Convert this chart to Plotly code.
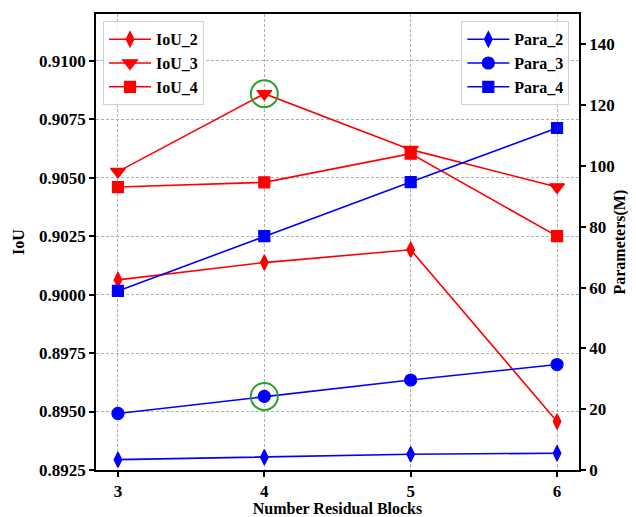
import plotly.graph_objects as go

blocks = [3, 4, 5, 6]
iou_2 = [0.90063, 0.90137, 0.90192, 0.89457]
iou_3 = [0.90526, 0.90859, 0.90620, 0.90460]
iou_4 = [0.90460, 0.90480, 0.90603, 0.90250]
para_2 = [3.4, 4.2, 5.2, 5.5]
para_3 = [18.6, 24.2, 29.6, 34.7]
para_4 = [58.9, 76.9, 94.7, 112.5]
highlight_x = [4]
highlight_iou = [0.90859]
highlight_para = [24.2]

iou_ticks = [0.8925, 0.8950, 0.8975, 0.9000, 0.9025, 0.9050, 0.9075, 0.9100]
para_ticks = [0, 20, 40, 60, 80, 100, 120, 140]

FONT = "Liberation Serif"
RED = "#ff0000"
BLUE = "#0000ff"
GREEN = "#2ca02c"

fig = go.Figure()

iou_series = [("IoU_2", iou_2, "diamond-tall", 11), ("IoU_3", iou_3, "triangle-down", 13),
              ("IoU_4", iou_4, "square", 11)]
for name, ys, sym, sz in iou_series:
    fig.add_trace(go.Scatter(x=blocks, y=ys, name=name, mode="lines+markers",
                             line=dict(color=RED, width=1.6),
                             marker=dict(symbol=sym, size=sz, color=RED,
                                         line=dict(color=RED, width=1.2)),
                             legend="legend", yaxis="y"))

para_series = [("Para_2", para_2, "diamond-tall", 11), ("Para_3", para_3, "circle", 12),
               ("Para_4", para_4, "square", 11)]
for name, ys, sym, sz in para_series:
    fig.add_trace(go.Scatter(x=blocks, y=ys, name=name, mode="lines+markers",
                             line=dict(color=BLUE, width=1.6),
                             marker=dict(symbol=sym, size=sz, color=BLUE,
                                         line=dict(color=BLUE, width=1.2)),
                             legend="legend2", yaxis="y2"))

fig.add_trace(go.Scatter(x=highlight_x, y=highlight_iou, mode="markers", showlegend=False,
                         marker=dict(symbol="circle-open", size=27, color=GREEN,
                                     line=dict(color=GREEN, width=2)),
                         yaxis="y"))
fig.add_trace(go.Scatter(x=highlight_x, y=highlight_para, mode="markers", showlegend=False,
                         marker=dict(symbol="circle-open", size=27, color=GREEN,
                                     line=dict(color=GREEN, width=2)),
                         yaxis="y2"))

tickfont = dict(family=FONT, size=17, color="black", weight="bold")
titlefont = dict(family=FONT, size=16, color="black", weight="bold")
grid = dict(showgrid=True, gridcolor="#b0b0b0", griddash="3px,2px", gridwidth=1)
axline = dict(showline=True, linecolor="black", linewidth=1.5,
              ticks="outside", ticklen=5, tickwidth=1.5, tickcolor="black",
              zeroline=False, automargin=False)

# the page body adds an 8px offset, so the figure is 8px smaller and margins shifted
fig.update_layout(
    width=628, height=509,
    margin=dict(l=88, r=57, t=6, b=47),
    paper_bgcolor="white", plot_bgcolor="white",
    font=dict(family=FONT, size=16, color="black"),
    xaxis=dict(range=[2.85, 6.15], tickvals=blocks, ticktext=[str(b) for b in blocks],
               tickfont=tickfont,
               title=dict(text="Number Residual Blocks", font=titlefont, standoff=8),
               mirror=True, **axline, **grid),
    yaxis=dict(range=[0.8925, 0.9120], tickvals=iou_ticks,
               ticktext=[f"{v:.4f}" for v in iou_ticks],
               tickfont=tickfont, **axline, **grid),
    yaxis2=dict(range=[0, 150], tickvals=para_ticks, ticktext=[str(v) for v in para_ticks],
                overlaying="y", side="right", anchor="x",
                tickfont=tickfont, showgrid=False, **axline),
    legend=dict(x=0.0145, y=0.984, xanchor="left", yanchor="top",
                bgcolor="rgba(255,255,255,0.8)", bordercolor="#d0d0d0", borderwidth=1,
                font=dict(family=FONT, size=16, color="black", weight="bold"),
                tracegroupgap=0, itemwidth=42),
    legend2=dict(x=0.98, y=0.984, xanchor="right", yanchor="top",
                 bgcolor="rgba(255,255,255,0.8)", bordercolor="#d0d0d0", borderwidth=1,
                 font=dict(family=FONT, size=16, color="black", weight="bold"),
                 tracegroupgap=0, itemwidth=42),
    annotations=[
        dict(text="IoU", xref="paper", yref="paper", x=-0.1615, y=0.5,
             xanchor="center", yanchor="middle", textangle=-90, showarrow=False,
             font=titlefont),
        dict(text="Parameters(M)", xref="paper", yref="paper", x=1.084, y=0.5,
             xanchor="center", yanchor="middle", textangle=-90, showarrow=False,
             font=titlefont),
    ],
)

fig.write_html("out.html")
